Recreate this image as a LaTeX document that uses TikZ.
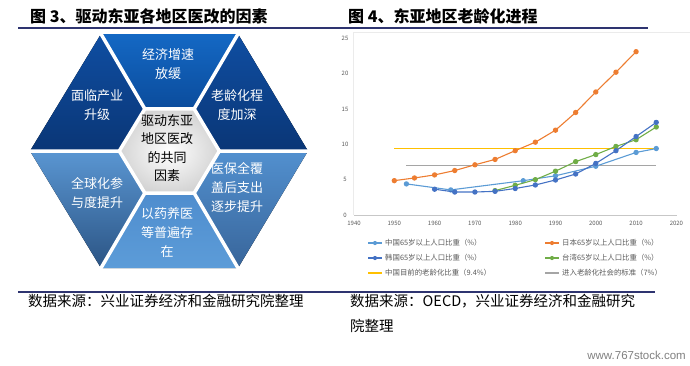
\documentclass[tikz,border=0pt]{standalone}
\usepackage{fontspec}
\setmainfont{Noto Sans CJK SC}
\newfontfamily\wmfont{Liberation Sans}
\usetikzlibrary{calc}
\definecolor{navy}{HTML}{2E3470}
\definecolor{tA}{HTML}{1468C4}
\definecolor{tB}{HTML}{0B4C9C}
\definecolor{sA}{HTML}{0F4EA2}
\definecolor{sB}{HTML}{0A3676}
\definecolor{bA}{HTML}{4F8DCE}
\definecolor{bB}{HTML}{5C9CD8}
\definecolor{blA}{HTML}{5A96D2}
\definecolor{blB}{HTML}{2B5484}
\definecolor{brA}{HTML}{5290CF}
\definecolor{brB}{HTML}{38659A}
\definecolor{ctrgray}{HTML}{D4D4D4}
\definecolor{jp}{HTML}{ED7D31}
\definecolor{cn}{HTML}{5B9BD5}
\definecolor{kr}{HTML}{4472C4}
\definecolor{tw}{HTML}{70AD47}
\definecolor{yl}{HTML}{FFC000}
\definecolor{gr}{HTML}{A5A5A5}
\definecolor{axgray}{HTML}{595959}
\definecolor{leggray}{HTML}{595959}
\definecolor{wmgray}{HTML}{808080}
\tikzset{
  hextxt/.style={text=white, align=center, font=\fontsize{13}{19}\selectfont, inner sep=0pt},
  ctrtxt/.style={text=black, align=center, font=\fontsize{13}{18.5}\selectfont, inner sep=0pt},
  ttl/.style={anchor=west, font=\bfseries\fontsize{16}{18}\selectfont, inner sep=0pt, text=black},
  src/.style={anchor=west, font=\fontsize{14.5}{18}\selectfont, inner sep=0pt, text=black},
  ticklbl/.style={font=\fontsize{6}{7}\selectfont, text=axgray, inner sep=0pt},
  leg/.style={anchor=west, font=\fontsize{7.4}{9}\selectfont, text=leggray, inner sep=0pt},
  ser/.style={line width=1.1pt, line join=round},
  gap/.style={white, line width=3.5pt, line join=round, line cap=round},
  rule/.style={navy, line width=2pt}
}
\begin{document}
\begin{tikzpicture}[x=1pt,y=-1pt]
\useasboundingbox (0,0) rectangle (690,365);
% titles
\node[ttl] (t3) at (30,16) {图 3、驱动东亚各地区医改的因素};
\node[ttl] (t4) at (348,16) {图 4、东亚地区老龄化进程};
\draw[rule] (18,28) -- (648,28);
% hexagon
\coordinate (C) at (169.5,151);
\coordinate (O1) at (101,34);
\coordinate (O2) at (238,34);
\coordinate (O3) at (308,151);
\coordinate (O4) at (238,268);
\coordinate (O5) at (101,268);
\coordinate (O6) at (30,151);
\foreach \i in {1,...,6} {\coordinate (I\i) at ($(C)!0.36!(O\i)$);}
\fill[top color=tA, bottom color=tB] (O1)--(O2)--(I2)--(I1)--cycle;
\fill[top color=sA, bottom color=sB] (O2)--(O3)--(I3)--(I2)--cycle;
\fill[top color=brA, bottom color=brB] (O3)--(O4)--(I4)--(I3)--cycle;
\fill[top color=bA, bottom color=bB] (O4)--(O5)--(I5)--(I4)--cycle;
\fill[top color=blA, bottom color=blB] (O5)--(O6)--(I6)--(I5)--cycle;
\fill[top color=sA, bottom color=sB] (O6)--(O1)--(I1)--(I6)--cycle;
\fill[inner color=white, outer color=ctrgray] (I1)--(I2)--(I3)--(I4)--(I5)--(I6)--cycle;
\draw[gap] (O1)--(I1) (O2)--(I2) (O3)--(I3) (O4)--(I4) (O5)--(I5) (O6)--(I6);
\draw[gap] (I1)--(I2)--(I3)--(I4)--(I5)--(I6)--cycle;
\node[hextxt] (h1) at (168,64) {经济增速\\放缓};
\node[hextxt] (h2) at (237,105) {老龄化程\\度加深};
\node[hextxt] (h3) at (237,187) {医保全覆\\盖后支出\\逐步提升};
\node[hextxt] (h4) at (167,232) {以药养医\\等普遍存\\在};
\node[hextxt] (h5) at (97,193) {全球化参\\与度提升};
\node[hextxt] (h6) at (97,105) {面临产业\\升级};
\node[ctrtxt] (hc) at (167,148) {驱动东亚\\地区医改\\的共同\\因素};
% chart frame / axis
\draw[black!8, line width=0.6pt] (353,32) -- (353,215);
\draw[black!8, line width=0.6pt] (353,32) -- (690,32);
\draw[black!22, line width=0.7pt] (354,215) -- (677,215);
\foreach \v in {0,5,...,25} {\node[ticklbl] (yl\v) at (345,{215-7.07*\v}) {\v};}
\foreach \yr in {1940,1950,...,2020} {\node[ticklbl] (xl\yr) at ({394.3+(\yr-1950)*4.03},223) {\yr};}
\begin{scope}[shift={(-7464.2,215)}, x=4.03pt, y=7.07pt]
\draw[yl, line width=1.3pt] (1950,9.4) -- (2015,9.4);
\draw[gr, line width=1.1pt] (1953,7) -- (2015,7);
\draw[jp, ser] plot[mark=*, mark size=2.1pt, mark options={fill=jp, draw=jp}] coordinates {(1950,4.86) (1955,5.24) (1960,5.67) (1965,6.29) (1970,7.1) (1975,7.86) (1980,9.1) (1985,10.3) (1990,12.0) (1995,14.5) (2000,17.4) (2005,20.2) (2010,23.1)};
\draw[cn, ser] plot[mark=*, mark size=2.1pt, mark options={fill=cn, draw=cn}] coordinates {(1953,4.4) (1964,3.55) (1982,4.85) (1990,5.55) (2000,6.9) (2010,8.85) (2015,9.4)};
\draw[tw, ser] plot[mark=*, mark size=2.1pt, mark options={fill=tw, draw=tw}] coordinates {(1975,3.45) (1980,4.2) (1985,5.0) (1990,6.2) (1995,7.55) (2000,8.55) (2005,9.7) (2010,10.65) (2015,12.45)};
\draw[kr, ser] plot[mark=*, mark size=2.1pt, mark options={fill=kr, draw=kr}] coordinates {(1960,3.65) (1965,3.25) (1970,3.25) (1975,3.35) (1980,3.75) (1985,4.25) (1990,4.95) (1995,5.8) (2000,7.3) (2005,9.1) (2010,11.1) (2015,13.1)};
\end{scope}
% legend
\draw[cn, line width=1.1pt] (368,243) -- (382,243); \fill[cn] (375,243) circle (2.1pt);
\node[leg] (lg1) at (385,243) {中国65岁以上人口比重（\%）};
\draw[jp, line width=1.1pt] (545,243) -- (559,243); \fill[jp] (552,243) circle (2.1pt);
\node[leg] (lg2) at (562,243) {日本65岁以上人口比重（\%）};
\draw[kr, line width=1.1pt] (368,258) -- (382,258); \fill[kr] (375,258) circle (2.1pt);
\node[leg] (lg3) at (385,258) {韩国65岁以上人口比重（\%）};
\draw[tw, line width=1.1pt] (545,258) -- (559,258); \fill[tw] (552,258) circle (2.1pt);
\node[leg] (lg4) at (562,258) {台湾65岁以上人口比重（\%）};
\draw[yl, line width=1.2pt] (368,273) -- (382,273);
\node[leg] (lg5) at (385,273) {中国目前的老龄化比重（9.4\%）};
\draw[gr, line width=1.1pt] (545,273) -- (559,273);
\node[leg] (lg6) at (562,273) {进入老龄化社会的标准（7\%）};
% sources
\draw[navy, line width=1.5pt] (18,292) -- (655,292);
\node[src] (s1) at (28,301) {数据来源：兴业证券经济和金融研究院整理};
\node[src] (s2) at (350,301) {数据来源：OECD，兴业证券经济和金融研究};
\node[src] (s3) at (350,326) {院整理};
\node[anchor=east, inner sep=0pt, text=wmgray, font=\wmfont\fontsize{11.5}{13}\selectfont] (wm) at (686,355) {www.767stock.com};
\end{tikzpicture}
\end{document}
